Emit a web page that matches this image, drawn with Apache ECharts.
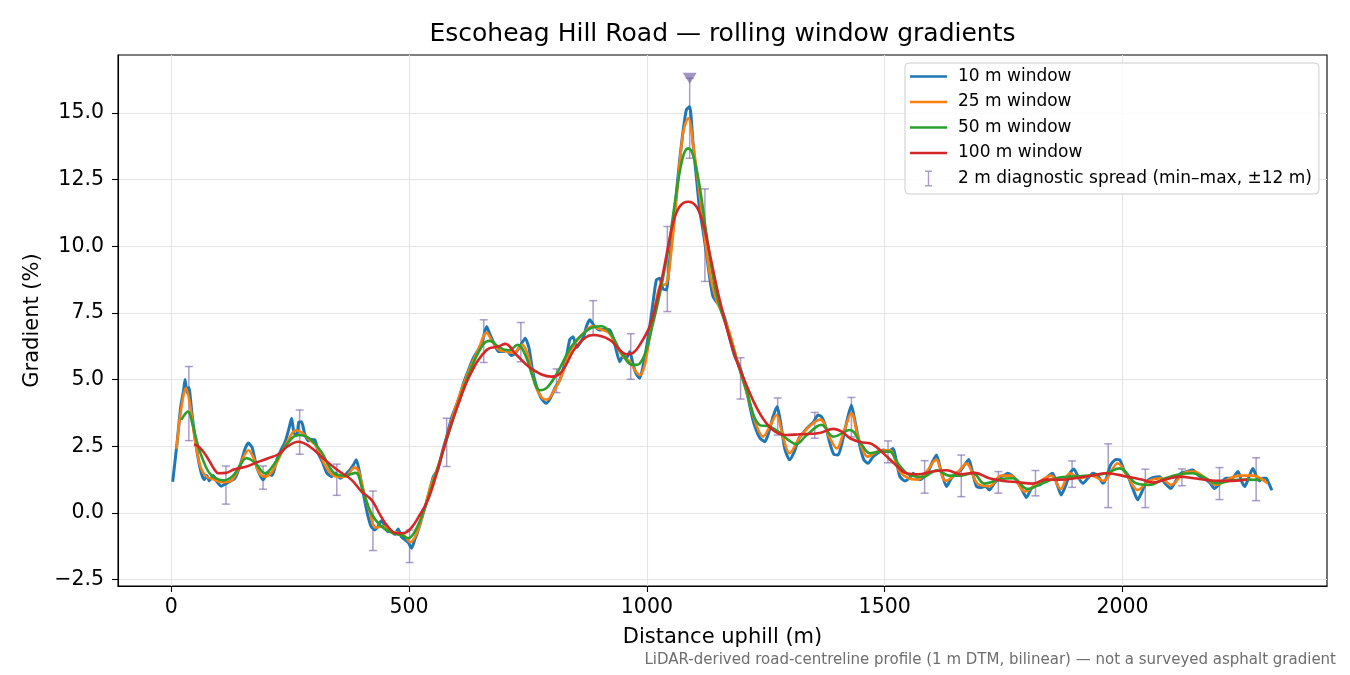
<!DOCTYPE html>
<html>
<head>
<meta charset="utf-8">
<script src="https://cdn.jsdelivr.net/npm/echarts@6/dist/echarts.min.js"></script>
<style>
  html, body { margin: 0; padding: 0; background: #fff; }
  #chart { width: 1350px; height: 675px; }
</style>
</head>
<body>
<div id="chart"></div>
<script>
// 10 m window
const dist10 = [3, 12, 20, 26, 29, 33, 37, 43, 50, 57, 63, 69, 75, 80, 88, 95, 105, 115, 125, 134, 145, 155, 162, 170, 180, 193, 203, 212, 222, 231, 240, 248, 253, 258, 264, 268, 274, 280, 288, 295, 302, 310, 318, 327, 337, 345, 355, 365, 375, 383, 389, 395, 403, 412, 420, 428, 435, 441, 448, 455, 462, 470, 477, 484, 491, 498, 505, 512, 520, 530, 540, 551, 560, 570, 579, 590, 604, 615, 625, 635, 645, 653, 663, 670, 680, 688, 698, 705, 715, 726, 735, 744, 752, 760, 768, 778, 788, 797, 807, 817, 830, 838, 845, 852, 859, 867, 873, 880, 890, 901, 912, 922, 930, 937, 943, 950, 957, 964, 972, 978, 985, 993, 1000, 1006, 1013, 1020, 1027, 1034, 1041, 1048, 1055, 1062, 1069, 1076, 1083, 1090, 1097, 1104, 1111, 1118, 1125, 1133, 1139, 1147, 1155, 1160, 1167, 1175, 1185, 1195, 1209, 1223, 1230, 1238, 1248, 1256, 1265, 1274, 1282, 1290, 1300, 1310, 1320, 1328, 1338, 1350, 1360, 1367, 1375, 1385, 1393, 1402, 1410, 1420, 1430, 1438, 1448, 1456, 1465, 1475, 1485, 1497, 1508, 1518, 1525, 1532, 1542, 1552, 1560, 1574, 1590, 1600, 1609, 1618, 1630, 1640, 1651, 1660, 1668, 1677, 1685, 1693, 1703, 1712, 1720, 1730, 1740, 1750, 1759, 1768, 1778, 1788, 1798, 1808, 1818, 1826, 1835, 1845, 1853, 1862, 1871, 1880, 1890, 1898, 1908, 1917, 1927, 1938, 1948, 1959, 1966, 1975, 1986, 1994, 2003, 2012, 2022, 2032, 2041, 2050, 2060, 2070, 2078, 2090, 2102, 2112, 2123, 2135, 2148, 2160, 2176, 2185, 2193, 2205, 2218, 2230, 2243, 2250, 2257, 2265, 2274, 2281, 2288, 2295, 2302, 2308, 2314];
const grad10 = [1.17, 2.6, 4.0, 4.6, 5.0, 4.5, 4.7, 3.8, 2.8, 2.0, 1.5, 1.25, 1.4, 1.2, 1.4, 1.2, 1.0, 1.1, 1.2, 1.3, 1.8, 2.4, 2.62, 2.45, 1.7, 1.24, 1.5, 1.4, 2.0, 2.36, 2.7, 3.2, 3.55, 3.0, 2.9, 3.4, 3.42, 3.0, 2.7, 2.75, 2.74, 2.2, 1.9, 1.5, 1.36, 1.5, 1.3, 1.42, 1.6, 1.8, 1.99, 1.6, 0.8, 0.0, -0.5, -0.64, -0.5, -0.3, -0.45, -0.7, -0.7, -0.8, -0.6, -0.9, -1.0, -1.1, -1.32, -1.0, -0.6, 0.0, 0.6, 1.36, 1.6, 2.3, 2.86, 3.6, 4.24, 4.9, 5.36, 5.8, 6.1, 6.36, 6.99, 6.7, 6.3, 6.05, 6.05, 6.1, 5.9, 6.05, 6.3, 6.55, 6.2, 5.3, 4.74, 4.3, 4.11, 4.3, 4.7, 4.99, 5.8, 6.5, 6.61, 6.2, 6.36, 6.6, 7.0, 7.24, 7.0, 6.86, 6.9, 6.86, 6.5, 6.0, 5.67, 5.9, 5.8, 6.05, 5.5, 5.2, 5.05, 5.6, 6.3, 6.99, 7.9, 8.74, 8.8, 8.4, 8.36, 9.5, 10.74, 12.0, 13.24, 14.3, 15.11, 15.24, 13.86, 12.6, 11.36, 10.6, 9.74, 8.7, 8.11, 7.9, 7.7, 7.5, 7.11, 6.5, 5.86, 5.49, 4.61, 3.49, 3.1, 2.8, 2.67, 3.0, 3.6, 3.99, 3.3, 2.4, 1.99, 2.3, 2.8, 2.99, 3.2, 3.4, 3.67, 3.61, 3.3, 2.6, 2.2, 2.17, 2.6, 3.4, 4.05, 3.4, 2.5, 2.0, 1.86, 2.1, 2.24, 2.36, 2.3, 2.42, 1.9, 1.36, 1.2, 1.3, 1.49, 1.24, 1.5, 1.9, 2.17, 1.6, 0.99, 1.3, 1.49, 1.6, 1.8, 2.0, 1.5, 1.0, 0.95, 1.0, 0.86, 1.1, 1.3, 1.4, 1.49, 1.4, 1.2, 0.9, 0.58, 0.9, 1.05, 1.05, 1.2, 1.4, 1.49, 1.1, 0.67, 1.0, 1.5, 1.65, 1.3, 1.11, 1.3, 1.49, 1.4, 1.11, 1.3, 1.8, 2.0, 1.99, 1.6, 1.36, 0.9, 0.49, 0.8, 1.17, 1.3, 1.35, 1.36, 1.1, 0.92, 1.2, 1.49, 1.55, 1.61, 1.4, 1.24, 1.1, 0.92, 1.1, 1.3, 1.3, 1.55, 1.2, 0.99, 1.3, 1.67, 1.4, 1.2, 1.3, 1.3, 1.1, 0.85];

// 25 m window
const dist25 = [11, 20, 31, 40, 50, 62, 74, 90, 105, 125, 140, 152, 162, 172, 185, 196, 210, 225, 245, 262, 275, 290, 305, 320, 337, 355, 370, 385, 393, 405, 418, 430, 445, 460, 478, 490, 503, 515, 530, 545, 560, 579, 600, 625, 645, 663, 676, 690, 705, 720, 738, 750, 765, 780, 790, 805, 820, 835, 850, 870, 885, 900, 920, 935, 950, 963, 975, 985, 995, 1006, 1013, 1027, 1041, 1050, 1062, 1076, 1087, 1097, 1115, 1132, 1146, 1160, 1174, 1195, 1215, 1230, 1244, 1260, 1272, 1287, 1300, 1320, 1345, 1365, 1385, 1399, 1415, 1430, 1445, 1465, 1485, 1510, 1530, 1550, 1570, 1590, 1608, 1628, 1650, 1672, 1695, 1720, 1745, 1765, 1795, 1820, 1850, 1870, 1889, 1910, 1935, 1960, 1990, 2010, 2032, 2055, 2080, 2102, 2130, 2150, 2175, 2197, 2220, 2245, 2275, 2290, 2305];
const grad25 = [2.4, 3.8, 4.67, 4.0, 2.7, 1.7, 1.36, 1.25, 1.15, 1.2, 1.6, 2.1, 2.35, 2.1, 1.5, 1.36, 1.5, 2.0, 2.7, 3.1, 3.0, 2.75, 2.5, 1.9, 1.45, 1.35, 1.4, 1.7, 1.6, 0.8, 0.0, -0.55, -0.5, -0.7, -0.75, -0.85, -1.1, -0.8, 0.0, 1.0, 1.7, 2.8, 4.1, 5.3, 6.1, 6.75, 6.4, 6.1, 6.05, 6.0, 6.3, 5.9, 4.8, 4.3, 4.25, 4.6, 5.1, 5.9, 6.4, 6.8, 7.0, 6.9, 6.75, 6.3, 5.85, 5.7, 5.35, 5.17, 5.5, 6.6, 7.24, 8.49, 8.6, 9.6, 11.74, 14.24, 14.8, 13.86, 11.36, 8.99, 8.0, 7.4, 6.74, 5.4, 4.2, 3.3, 2.86, 3.3, 3.67, 2.8, 2.24, 2.8, 3.3, 3.5, 2.8, 2.42, 3.1, 3.74, 2.8, 2.11, 2.3, 2.35, 1.6, 1.3, 1.25, 1.6, 2.0, 1.2, 1.45, 1.85, 1.1, 1.0, 1.4, 1.4, 0.8, 1.1, 1.4, 0.9, 1.49, 1.3, 1.4, 1.2, 1.86, 1.4, 0.86, 1.2, 1.3, 1.05, 1.5, 1.55, 1.3, 1.05, 1.25, 1.4, 1.4, 1.3, 1.11];

// 50 m window
const dist50 = [21, 35, 45, 55, 64, 78, 92, 110, 130, 145, 158, 175, 197, 215, 240, 267, 290, 315, 342, 365, 388, 400, 420, 442, 465, 485, 498, 515, 535, 555, 580, 605, 630, 655, 670, 690, 710, 728, 745, 760, 775, 790, 810, 840, 865, 885, 905, 925, 945, 971, 985, 1013, 1041, 1062, 1076, 1087, 1097, 1111, 1125, 1146, 1174, 1209, 1237, 1258, 1280, 1300, 1314, 1335, 1367, 1392, 1427, 1450, 1469, 1490, 1510, 1530, 1555, 1580, 1610, 1635, 1660, 1685, 1710, 1740, 1770, 1800, 1830, 1860, 1890, 1930, 1966, 1994, 2029, 2055, 2090, 2120, 2148, 2175, 2197, 2230, 2260, 2290];
const grad50 = [3.49, 3.8, 3.3, 2.6, 2.11, 1.55, 1.31, 1.22, 1.4, 1.8, 2.05, 1.9, 1.49, 1.8, 2.5, 2.92, 2.8, 2.3, 1.5, 1.4, 1.5, 1.0, 0.0, -0.51, -0.75, -0.85, -0.95, -0.6, 0.3, 1.4, 2.8, 4.2, 5.4, 6.3, 6.45, 6.2, 6.1, 6.3, 5.9, 5.1, 4.6, 4.7, 5.2, 6.2, 6.7, 6.95, 7.0, 6.7, 6.05, 5.55, 5.6, 7.11, 9.49, 11.99, 13.36, 13.67, 13.42, 12.24, 10.49, 8.24, 6.61, 4.61, 3.3, 3.24, 3.0, 2.7, 2.58, 2.9, 3.3, 2.86, 3.11, 2.6, 2.24, 2.3, 2.3, 1.8, 1.4, 1.35, 1.6, 1.4, 1.4, 1.5, 1.1, 1.25, 1.3, 0.9, 1.1, 1.3, 1.36, 1.4, 1.49, 1.67, 1.11, 1.05, 1.3, 1.45, 1.49, 1.3, 1.11, 1.22, 1.25, 1.24];

// 100 m window
const dist100 = [48, 60, 75, 90, 99, 115, 130, 141, 160, 180, 204, 225, 245, 267, 290, 323, 350, 379, 400, 421, 440, 455, 473, 490, 505, 520, 540, 560, 579, 600, 628, 663, 690, 702, 726, 761, 800, 821, 852, 887, 922, 943, 957, 971, 985, 1006, 1020, 1034, 1055, 1069, 1087, 1104, 1118, 1132, 1153, 1181, 1202, 1237, 1265, 1293, 1321, 1363, 1392, 1410, 1427, 1450, 1469, 1497, 1520, 1546, 1570, 1600, 1630, 1660, 1690, 1720, 1750, 1780, 1810, 1840, 1870, 1900, 1935, 1966, 2010, 2040, 2064, 2090, 2120, 2150, 2176, 2205, 2232, 2262];
const grad100 = [2.57, 2.45, 2.1, 1.65, 1.49, 1.5, 1.62, 1.67, 1.75, 1.9, 2.05, 2.2, 2.5, 2.67, 2.5, 1.99, 1.6, 1.24, 0.8, 0.49, -0.1, -0.5, -0.76, -0.75, -0.55, -0.15, 0.5, 1.6, 2.8, 3.9, 5.17, 6.11, 6.25, 6.34, 5.92, 5.36, 5.11, 5.3, 6.24, 6.67, 6.49, 6.11, 5.95, 6.0, 6.3, 7.0, 7.9, 9.0, 10.86, 11.49, 11.67, 11.49, 10.86, 9.74, 7.99, 6.11, 5.11, 3.74, 3.11, 2.92, 2.95, 3.0, 3.15, 3.05, 2.8, 2.65, 2.61, 2.24, 1.85, 1.49, 1.45, 1.55, 1.6, 1.45, 1.5, 1.3, 1.2, 1.15, 1.1, 1.25, 1.25, 1.3, 1.4, 1.49, 1.36, 1.25, 1.14, 1.25, 1.36, 1.3, 1.24, 1.2, 1.2, 1.25];

// 2 m diagnostic spread (min-max within +-12 m)
const spreadDist = [37, 115, 193, 270, 348, 424, 501, 579, 657, 735, 810, 887, 966, 1043, 1090, 1122, 1197, 1275, 1353, 1430, 1507, 1584, 1661, 1739, 1817, 1894, 1970, 2048, 2125, 2204, 2281];
const spreadMin = [2.71, 0.33, 0.89, 2.2, 0.66, -1.41, -1.86, 1.74, 5.64, 5.67, 4.51, 6.65, 5.01, 7.55, 13.3, 8.68, 4.27, 2.92, 2.8, 2.85, 1.88, 0.74, 0.61, 0.74, 0.64, 0.96, 0.2, 0.2, 1.02, 0.5, 0.46];
const spreadMax = [5.49, 1.76, 1.76, 3.86, 1.83, 0.82, -0.64, 3.55, 7.24, 7.14, 5.4, 7.96, 6.72, 10.74, 16.3, 12.15, 5.82, 4.31, 3.77, 4.33, 2.7, 1.96, 2.17, 1.55, 1.59, 1.95, 2.59, 1.64, 1.65, 1.7, 2.07];

// steepest 2 m reading
const peakDist = [1090];
const peakGrad = [16.3];

const xTicks = [0, 500, 1000, 1500, 2000];
const yTicks = [-2.5, 0, 2.5, 5, 7.5, 10, 12.5, 15];

const FONT = 'DejaVu Sans';
const spreadColor = 'rgba(118,99,168,0.62)';

function zip(xs, ys) {
	return xs.map((x, i) => [x, ys[i]]);
}

const lineIcon = 'path://M0,0h0.01v0.01h-0.01zM0,7.2h37v2.6h-37zM36.99,16.99h0.01v0.01h-0.01z';
const barIcon = 'path://M0,0h0.01v0.01h-0.01zM36.99,16.99h0.01v0.01h-0.01zM15,0.5h7v1.4h-2.8v13.2h2.8v1.4h-7v-1.4h2.8v-13.2h-2.8z';

function renderSpread(params, api) {
	const x = api.value(0);
	const lo = api.coord([x, api.value(1)]);
	const hi = api.coord([x, api.value(2)]);
	const cap = 4;
	const style = { stroke: spreadColor, lineWidth: 1.5, fill: null };
	return {
		type: 'group',
		children: [
			{ type: 'line', shape: { x1: lo[0], y1: lo[1], x2: hi[0], y2: hi[1] }, style: style },
			{ type: 'line', shape: { x1: lo[0] - cap, y1: lo[1], x2: lo[0] + cap, y2: lo[1] }, style: style },
			{ type: 'line', shape: { x1: hi[0] - cap, y1: hi[1], x2: hi[0] + cap, y2: hi[1] }, style: style }
		]
	};
}

function lineSeries(name, xs, ys, color, width, smooth, z) {
	return {
		name: name,
		type: 'line',
		data: zip(xs, ys),
		showSymbol: false,
		smooth: smooth,
		z: z,
		lineStyle: { color: color, width: width },
		itemStyle: { color: color },
		emphasis: { disabled: true },
		animation: false
	};
}

const chart = echarts.init(document.getElementById('chart'), null, { renderer: 'canvas' });

const option = {
	animation: false,
	textStyle: { fontFamily: FONT },
	grid: {
		left: 118, right: 23, top: 55, bottom: 89,
		show: true, borderColor: '#000', borderWidth: 1.1, backgroundColor: 'transparent'
	},
	graphic: [
		{
			type: 'text', x: 722.5, y: 34,
			style: {
				text: 'Escoheag Hill Road — rolling window gradients',
				align: 'center', verticalAlign: 'middle',
				fontSize: 25, fontFamily: FONT, fill: '#000'
			}
		},
		{
			type: 'text', x: 1336, y: 660,
			style: {
				text: 'LiDAR-derived road-centreline profile (1 m DTM, bilinear) — not a surveyed asphalt gradient',
				align: 'right', verticalAlign: 'middle',
				fontSize: 15, fontFamily: FONT, fill: '#6e6e6e'
			}
		}
	],
	legend: {
		orient: 'vertical',
		left: 905, top: 63,
		padding: [5, 7, 7, 5],
		itemWidth: 37, itemHeight: 17, itemGap: 8.5,
		backgroundColor: 'rgba(255,255,255,0.85)',
		borderColor: '#cccccc', borderWidth: 1, borderRadius: 4,
		textStyle: { fontSize: 17, fontFamily: FONT, color: '#000', padding: [0, 0, 0, 6] },
		selectedMode: false,
		data: [
			{ name: '10 m window', icon: lineIcon },
			{ name: '25 m window', icon: lineIcon },
			{ name: '50 m window', icon: lineIcon },
			{ name: '100 m window', icon: lineIcon },
			{ name: '2 m diagnostic spread (min–max, ±12 m)', icon: barIcon }
		]
	},
	xAxis: {
		type: 'value',
		min: -112, max: 2430,
		name: 'Distance uphill (m)',
		nameLocation: 'middle', nameGap: 41,
		nameTextStyle: { fontSize: 21, fontFamily: FONT, color: '#000' },
		axisLine: { show: true, onZero: false, lineStyle: { color: '#000', width: 1.1 } },
		axisTick: { show: true, length: 6, customValues: xTicks, lineStyle: { color: '#000', width: 1.1 } },
		axisLabel: {
			customValues: xTicks, fontSize: 20.5, fontFamily: FONT, color: '#000', margin: 11,
			formatter: v => String(v)
		},
		splitLine: { show: true, lineStyle: { color: '#e4e4e4', width: 1.1 } }
	},
	yAxis: {
		type: 'value',
		min: -2.74, max: 17.17,
		name: 'Gradient (%)',
		nameLocation: 'middle', nameGap: 74, nameRotate: 90,
		nameTextStyle: { fontSize: 21, fontFamily: FONT, color: '#000' },
		axisLine: { show: true, onZero: false, lineStyle: { color: '#000', width: 1.1 } },
		axisTick: { show: true, length: 6, customValues: yTicks, lineStyle: { color: '#000', width: 1.1 } },
		axisLabel: {
			customValues: yTicks, fontSize: 20.5, fontFamily: FONT, color: '#000', margin: 14,
			formatter: v => v.toFixed(1).replace('-', '\u2212')
		},
		splitLine: { show: true, lineStyle: { color: '#e4e4e4', width: 1.1 } }
	},
	series: [
		{
			name: '2 m diagnostic spread (min–max, ±12 m)',
			type: 'custom',
			renderItem: renderSpread,
			encode: { x: 0, y: [1, 2] },
			data: spreadDist.map((d, i) => [d, spreadMin[i], spreadMax[i]]),
			itemStyle: { color: spreadColor },
			z: 1,
			silent: true
		},
		lineSeries('10 m window', dist10, grad10, '#1f77b4', 3, 0.2, 2),
		lineSeries('25 m window', dist25, grad25, '#ff7f0e', 2.6, 0.35, 3),
		lineSeries('50 m window', dist50, grad50, '#2ca02c', 2.6, 0.4, 4),
		lineSeries('100 m window', dist100, grad100, '#d62728', 2.6, 0.4, 5),
		{
			name: 'peak',
			type: 'scatter',
			data: zip(peakDist, peakGrad),
			symbol: 'triangle',
			symbolRotate: 180,
			symbolSize: [14, 11],
			itemStyle: { color: 'rgba(118,99,168,0.85)' },
			z: 6,
			silent: true
		}
	]
};

chart.setOption(option);
</script>
</body>
</html>
